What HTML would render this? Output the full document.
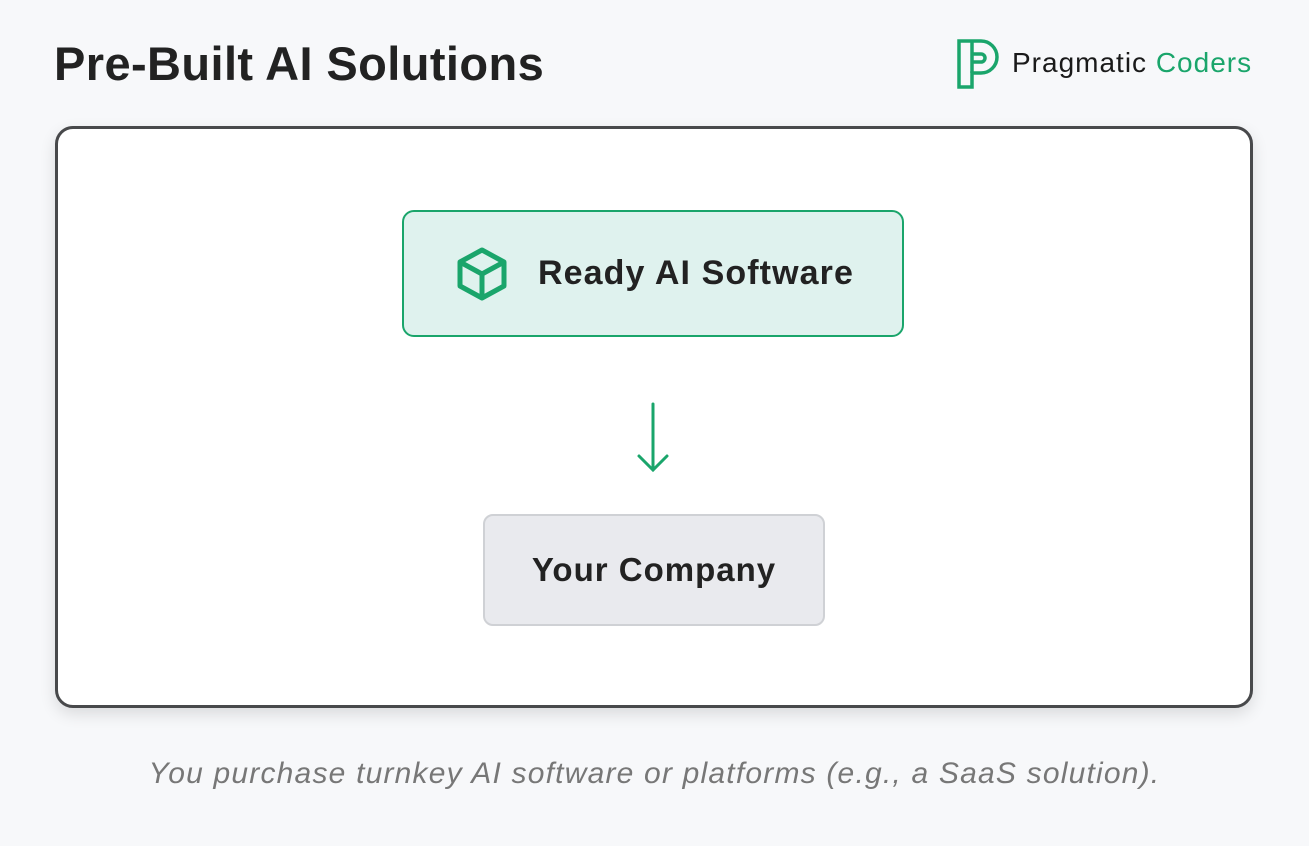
<!DOCTYPE html>
<html><head><meta charset="utf-8"><style>
body{margin:0;width:1309px;height:846px;background:#f7f8fa;font-family:"Liberation Sans",sans-serif;position:relative;overflow:hidden}
.t{position:absolute;left:54px;top:36px;font-size:47px;letter-spacing:0.4px;font-weight:bold;color:#222}
.logo{position:absolute;left:1012px;top:47px;font-size:28px;letter-spacing:1px;color:#1a1a1a}
.main{position:absolute;left:55px;top:126px;width:1192px;height:576px;border:3px solid #48494b;border-radius:18px;background:#fff;box-shadow:0 6px 16px rgba(0,0,0,.12)}
.g{position:absolute;left:402px;top:210px;width:498px;height:123px;border:2px solid #1aa56b;border-radius:12px;background:#dff2ee}
.g span{position:absolute;left:134px;top:42px;font-size:34px;letter-spacing:1.1px;font-weight:bold;color:#222}
.c{position:absolute;left:483px;top:514px;width:338px;height:108px;border:2px solid #cfd1d5;border-radius:10px;background:#e9eaee;text-align:center;line-height:108px;font-size:33px;letter-spacing:1px;font-weight:bold;color:#222}
.cap{position:absolute;left:0;width:1309px;top:757px;text-align:center;font-size:30px;letter-spacing:1.2px;font-style:italic;color:#777}
</style></head><body>
<div class="t">Pre-Built AI Solutions</div>
<svg style="position:absolute;left:956px;top:38px" width="46" height="52" viewBox="0 0 46 52"><path d="M3 3h22a16 16 0 0 1 0 32H16v14H3z" fill="none" stroke="#1aa56b" stroke-width="3.5"/><path d="M16 3v32M16 16h9a4 4 0 0 1 0 8h-9" fill="none" stroke="#1aa56b" stroke-width="3.5"/></svg>
<div class="logo">Pragmatic <span style="color:#1aa56b">Coders</span></div>
<div class="main"></div>
<div class="g"><span>Ready AI Software</span></div>
<svg style="position:absolute;left:455px;top:246px" width="54" height="56" viewBox="0 0 54 56"><g fill="none" stroke="#1aa56b" stroke-width="5" stroke-linejoin="round"><path d="M27 4 49 16v24L27 52 5 40V16z"/><path d="M5 16l22 12 22-12M27 28v24"/></g></svg>
<svg style="position:absolute;left:636px;top:402px" width="36" height="72"><g stroke="#1aa56b" stroke-width="3" fill="none" stroke-linecap="round"><path d="M17 2v66M3 54l14 14 14-14"/></g></svg>
<div class="c">Your Company</div>
<div class="cap">You purchase turnkey AI software or platforms (e.g., a SaaS solution).</div>
</body></html>
